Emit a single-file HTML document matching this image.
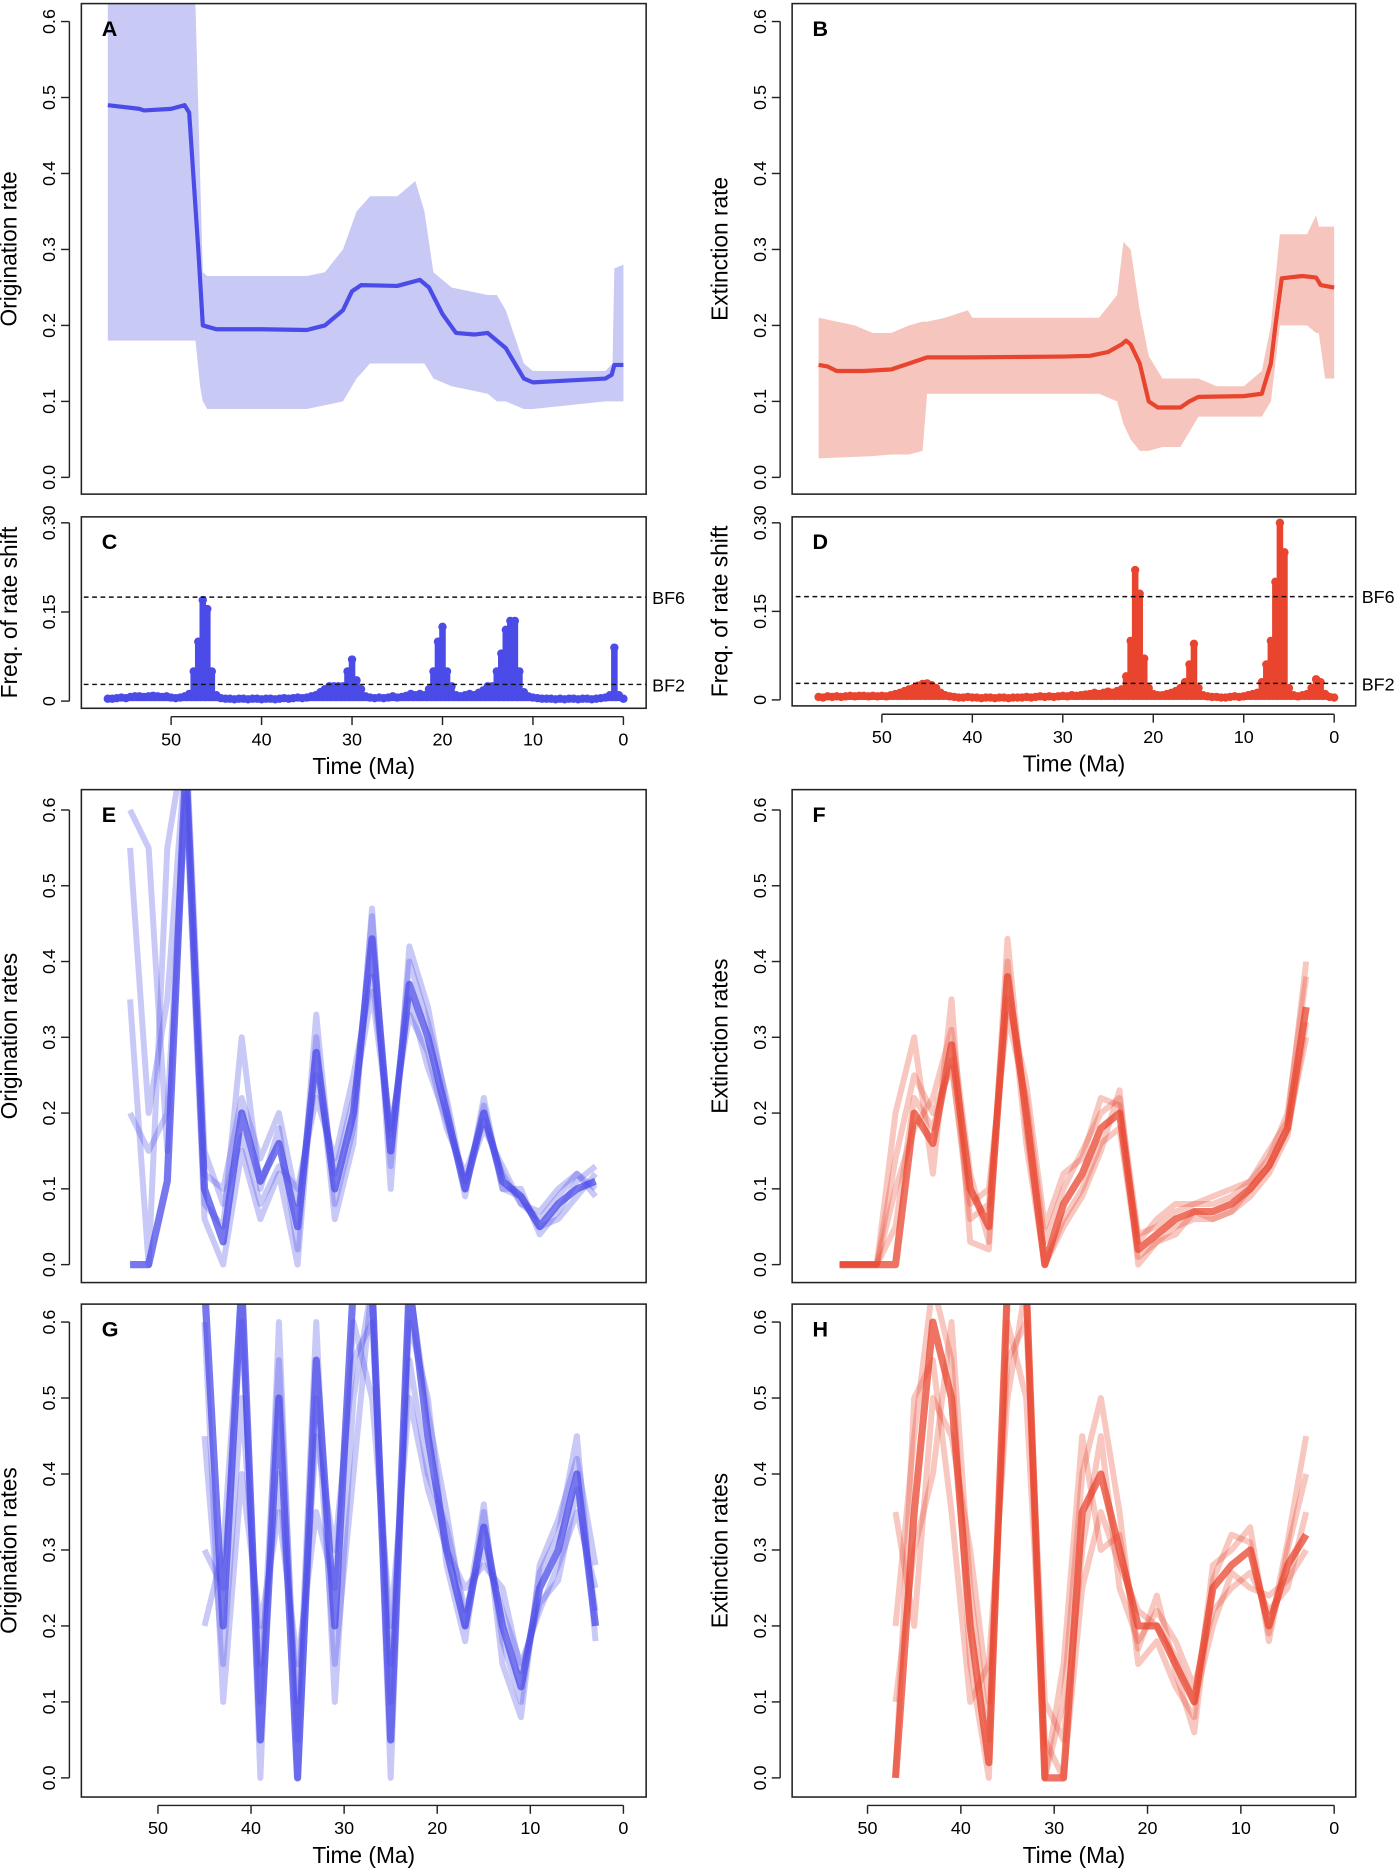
<!DOCTYPE html>
<html><head><meta charset="utf-8">
<style>
html,body{margin:0;padding:0;background:#fff;}
svg{display:block;font-family:"Liberation Sans",Arial,sans-serif;}
</style></head>
<body>
<svg id="fig" width="1400" height="1876" viewBox="0 0 1170 1568" preserveAspectRatio="none" xmlns="http://www.w3.org/2000/svg"></svg>
<script>
// ---------- DATA ----------
const tA = [57,53.5,53,50,48.5,48,47,46.5,45,40,35,33,31,30,29,25,22.5,21.5,20,18.5,16.5,15,13,11,10,7,2,1.3,1,0];
const meanA = [0.49,0.485,0.483,0.485,0.49,0.48,0.3,0.2,0.195,0.195,0.194,0.2,0.22,0.245,0.253,0.252,0.26,0.25,0.215,0.19,0.188,0.19,0.17,0.13,0.125,0.127,0.13,0.135,0.148,0.148];
const tAband = [57,49,47.3,46.8,46.5,46,35,33,31,29.5,28,25,24,23,22,21,19,15,14,13,11,10,2,1.2,1,0];
const upA = [0.7,0.7,0.62,0.4,0.27,0.265,0.265,0.27,0.3,0.35,0.37,0.37,0.38,0.39,0.35,0.27,0.25,0.24,0.24,0.22,0.15,0.14,0.14,0.15,0.275,0.28];
const loA = [0.18,0.18,0.18,0.12,0.1,0.09,0.09,0.095,0.1,0.13,0.15,0.15,0.15,0.15,0.15,0.13,0.12,0.11,0.1,0.1,0.09,0.09,0.1,0.1,0.1,0.1];
const tB = [57,56,55,52,49,47,45,40,30,27,25,23.5,23,22.5,21.5,20.5,19.5,17,16,15,10,8,7,6.5,5.8,3.5,2,1.5,0];
const meanB = [0.148,0.146,0.14,0.14,0.142,0.15,0.158,0.158,0.159,0.16,0.165,0.175,0.18,0.175,0.15,0.1,0.092,0.092,0.1,0.106,0.107,0.11,0.15,0.2,0.262,0.265,0.263,0.253,0.25];
const tBband = [57,53,51,49,47,45.5,45,43,40.5,40,30,26,24,23.3,22.5,21.5,20.5,19,17,15,13,10,8,7,6,3,2,1.7,1,0];
const upB = [0.21,0.2,0.19,0.19,0.2,0.205,0.205,0.21,0.22,0.21,0.21,0.21,0.24,0.31,0.3,0.22,0.16,0.13,0.13,0.13,0.12,0.12,0.14,0.2,0.32,0.32,0.345,0.33,0.33,0.33];
const loB = [0.025,0.027,0.028,0.03,0.03,0.035,0.11,0.11,0.11,0.11,0.11,0.11,0.1,0.07,0.05,0.035,0.035,0.04,0.04,0.08,0.08,0.08,0.08,0.1,0.2,0.2,0.19,0.19,0.13,0.13];
const freqC = [0.004,0.004,0.005,0.006,0.005,0.007,0.008,0.008,0.007,0.008,
0.009,0.008,0.007,0.008,0.006,0.005,0.006,0.008,0.012,0.05,
0.1,0.17,0.155,0.05,0.01,0.005,0.004,0.004,0.003,0.004,
0.004,0.003,0.004,0.004,0.003,0.004,0.004,0.003,0.004,0.005,
0.004,0.005,0.006,0.005,0.006,0.008,0.01,0.015,0.02,0.025,
0.025,0.025,0.025,0.05,0.07,0.035,0.02,0.008,0.006,0.005,
0.006,0.005,0.006,0.008,0.006,0.007,0.009,0.012,0.01,0.012,
0.01,0.02,0.05,0.1,0.125,0.05,0.025,0.01,0.008,0.01,
0.012,0.01,0.014,0.018,0.025,0.025,0.05,0.08,0.12,0.135,
0.135,0.05,0.015,0.008,0.006,0.005,0.004,0.004,0.004,0.003,
0.004,0.003,0.004,0.004,0.003,0.004,0.004,0.003,0.004,0.005,
0.006,0.01,0.09,0.01,0.004];
const freqD = [0.005,0.004,0.006,0.005,0.006,0.005,0.006,0.007,0.006,0.007,
0.007,0.006,0.007,0.006,0.007,0.006,0.008,0.01,0.012,0.015,
0.018,0.02,0.024,0.027,0.028,0.025,0.02,0.012,0.008,0.006,
0.005,0.004,0.004,0.005,0.004,0.004,0.003,0.004,0.004,0.003,
0.004,0.004,0.003,0.004,0.004,0.004,0.005,0.004,0.005,0.006,
0.005,0.006,0.005,0.006,0.007,0.006,0.008,0.007,0.008,0.009,
0.01,0.012,0.01,0.012,0.014,0.012,0.015,0.018,0.04,0.1,
0.22,0.18,0.07,0.02,0.01,0.008,0.008,0.01,0.012,0.015,
0.02,0.03,0.06,0.095,0.02,0.008,0.006,0.005,0.005,0.004,
0.004,0.005,0.006,0.005,0.006,0.008,0.01,0.012,0.03,0.06,
0.1,0.2,0.3,0.25,0.02,0.008,0.006,0.008,0.01,0.02,
0.035,0.03,0.01,0.005,0.004];
const bf6 = 0.175, bf2 = 0.028;
const tE = [53,51,49,47,45,43,41,39,37,35,33,31,29,27,25,23,21,19,17,15,13,11,9,7,5,3];
const E0 = [0,0,0.11,0.66,0.1,0.03,0.2,0.11,0.16,0.05,0.28,0.1,0.2,0.43,0.15,0.37,0.3,0.2,0.1,0.2,0.11,0.09,0.05,0.08,0.1,0.11];
const E1 = [0.35,0,0.55,0.7,0.15,0.08,0.17,0.08,0.13,0.1,0.22,0.14,0.25,0.38,0.18,0.33,0.28,0.18,0.12,0.19,0.12,0.08,0.06,0.09,0.12,0.1];
const E2 = [0.2,0.15,0.2,0.64,0.08,0.05,0.3,0.1,0.18,0.02,0.33,0.08,0.18,0.46,0.13,0.4,0.32,0.22,0.1,0.21,0.1,0.1,0.04,0.07,0.11,0.13];
const E3 = [0.55,0.2,0.35,0.68,0.12,0.1,0.22,0.14,0.2,0.08,0.25,0.12,0.22,0.36,0.17,0.35,0.26,0.19,0.11,0.18,0.13,0.08,0.07,0.1,0.12,0.09];
const E4 = [0.6,0.55,0.15,0.62,0.06,0,0.15,0.06,0.12,0,0.3,0.06,0.16,0.47,0.1,0.42,0.34,0.21,0.09,0.22,0.1,0.09,0.05,0.06,0.09,0.12];
const tF = [53,51,49,47,45,43,41,39,37,35,33,31,29,27,25,23,21,19,17,15,13,11,9,7,5,3];
const F0 = [0,0,0,0,0.2,0.16,0.29,0.1,0.05,0.38,0.2,0,0.08,0.12,0.18,0.2,0.02,0.04,0.06,0.07,0.07,0.08,0.1,0.13,0.18,0.34];
const F1 = [0,0,0,0.14,0.25,0.2,0.26,0.08,0.1,0.33,0.22,0.03,0.1,0.15,0.2,0.22,0.04,0.05,0.07,0.08,0.08,0.09,0.11,0.14,0.2,0.38];
const F2 = [0,0,0,0.1,0.18,0.22,0.31,0.12,0.03,0.43,0.18,0,0.06,0.1,0.16,0.18,0.01,0.03,0.05,0.06,0.06,0.07,0.09,0.12,0.17,0.32];
const F3 = [0,0,0,0.05,0.22,0.18,0.27,0.06,0.08,0.35,0.24,0.05,0.12,0.14,0.22,0.21,0.03,0.06,0.08,0.08,0.09,0.1,0.11,0.15,0.19,0.4];
const F4 = [0,0,0,0.2,0.3,0.12,0.35,0.03,0.02,0.4,0.16,0,0.05,0.09,0.15,0.23,0,0.03,0.04,0.07,0.06,0.07,0.1,0.13,0.18,0.3];
const tG = [45,43,41,39,37,35,33,31,29,27,25,23,21,19,17,15,13,11,9,7,5,3];
const G0 = [0.65,0.2,0.65,0.05,0.5,0,0.55,0.2,0.65,0.65,0.05,0.65,0.45,0.3,0.2,0.33,0.2,0.12,0.25,0.3,0.4,0.2];
const G1 = [0.45,0.15,0.5,0.15,0.4,0.1,0.45,0.3,0.55,0.6,0.15,0.55,0.4,0.33,0.22,0.3,0.22,0.15,0.22,0.28,0.35,0.25];
const G2 = [0.3,0.25,0.6,0.1,0.55,0.05,0.6,0.1,0.5,0.65,0.1,0.6,0.5,0.28,0.18,0.35,0.18,0.1,0.27,0.32,0.45,0.18];
const G3 = [0.6,0.1,0.4,0.2,0.35,0.15,0.35,0.25,0.6,0.5,0.2,0.5,0.38,0.3,0.25,0.28,0.25,0.14,0.23,0.26,0.38,0.22];
const G4 = [0.2,0.3,0.65,0,0.6,0,0.5,0.15,0.4,0.65,0,0.65,0.48,0.35,0.2,0.36,0.15,0.08,0.28,0.34,0.42,0.28];
const tH = [47,45,43,41,39,37,35,33,31,29,27,25,23,21,19,17,15,13,11,9,7,5,3];
const H0 = [0,0.35,0.6,0.5,0.2,0.02,0.65,0.65,0,0,0.35,0.4,0.3,0.2,0.2,0.15,0.1,0.25,0.28,0.3,0.2,0.28,0.32];
const H1 = [0.35,0.2,0.5,0.45,0.3,0.1,0.55,0.6,0.1,0.05,0.3,0.45,0.25,0.18,0.22,0.18,0.12,0.22,0.25,0.27,0.22,0.25,0.35];
const H2 = [0.2,0.45,0.65,0.55,0.15,0,0.65,0.65,0,0.1,0.4,0.5,0.35,0.15,0.18,0.12,0.08,0.28,0.3,0.33,0.18,0.3,0.4];
const H3 = [0.1,0.3,0.4,0.6,0.25,0.05,0.6,0.5,0.05,0,0.25,0.35,0.28,0.22,0.2,0.16,0.1,0.2,0.27,0.25,0.24,0.26,0.3];
const H4 = [0,0.5,0.55,0.35,0.1,0.15,0.5,0.65,0,0.15,0.45,0.3,0.32,0.17,0.24,0.14,0.06,0.26,0.32,0.31,0.19,0.31,0.45];
const rateTicks = [0,0.1,0.2,0.3,0.4,0.5,0.6];
const rateTickLabels = ["0.0","0.1","0.2","0.3","0.4","0.5","0.6"];
const freqTicks = [0,0.15,0.30];
const freqTickLabels = ["0","0.15","0.30"];
const timeTicks = [50,40,30,20,10,0];
const timeTickLabels = ["50","40","30","20","10","0"];

// ---------- DRAWING ----------
const NS = "http://www.w3.org/2000/svg";
const svg = document.getElementById("fig");
const BLUE = "#4b4be8", BLUEBAND = "#c9c9f5", RED = "#e8442e", REDBAND = "#f6c6be";
function mk(tag, parent){ const e = document.createElementNS(NS, tag); (parent||svg).appendChild(e); return e; }
function txt(parent, x, y, s, size, rot, anchor, bold){
  const t = mk("text", parent);
  t.setAttribute("x", x); t.setAttribute("y", y);
  t.setAttribute("font-size", size);
  t.setAttribute("text-anchor", anchor || "middle");
  if (bold) t.setAttribute("font-weight", "bold");
  if (rot) t.setAttribute("transform", "rotate(-90 " + x + " " + y + ")");
  t.textContent = s;
  return t;
}
let clipId = 0;
function panel(o){
  const g = mk("g");
  
  
  const sx = t => o.x0t - o.kx * t;
  const sy = v => o.yb - (v - o.vmin) / (o.vmax - o.vmin) * (o.yb - o.yt);
  const cid = "clip" + (clipId++);
  const cp = mk("clipPath", g); cp.setAttribute("id", cid);
  const cr = mk("rect", cp);
  cr.setAttribute("x", o.bx0); cr.setAttribute("y", o.by0); cr.setAttribute("width", o.bx1 - o.bx0); cr.setAttribute("height", o.by1 - o.by0);
  const plot = mk("g", g);
  plot.setAttribute("clip-path", "url(#" + cid + ")");
  
  
  o.draw(plot, sx, sy);
  const box = mk("rect", g);
  
  
  box.setAttribute("x", o.bx0); box.setAttribute("y", o.by0); box.setAttribute("width", o.bx1 - o.bx0); box.setAttribute("height", o.by1 - o.by0);
  box.setAttribute("fill", "none"); box.setAttribute("stroke", "#222"); box.setAttribute("stroke-width", "1.3");
  const ya = mk("g", g);
  
  
  const yl = mk("line", ya);
  yl.setAttribute("x1", o.bx0 - 10); yl.setAttribute("x2", o.bx0 - 10);
  yl.setAttribute("y1", sy(o.yticks[0])); yl.setAttribute("y2", sy(o.yticks[o.yticks.length-1]));
  yl.setAttribute("stroke", "#222"); yl.setAttribute("stroke-width", "1.2");
  o.yticks.forEach((v, i) => {
    const l = mk("line", ya);
    l.setAttribute("x1", o.bx0 - 10); l.setAttribute("x2", o.bx0 - 17);
    l.setAttribute("y1", sy(v)); l.setAttribute("y2", sy(v));
    l.setAttribute("stroke", "#222"); l.setAttribute("stroke-width", "1.2");
    const t = txt(ya, o.bx0 - 22, sy(v), o.ylabels[i], 15, true, "middle");
    
    
  });
  const yt = txt(g, o.bx0 - 54, (o.by0 + o.by1) / 2, o.ytitle, 19, true, "middle");
  
  
  if (o.xaxis){
    const xa = mk("g", g);
    
    
    const y = o.by1 + 7;
    const xl = mk("line", xa);
    xl.setAttribute("x1", sx(timeTicks[0])); xl.setAttribute("x2", sx(timeTicks[timeTicks.length-1]));
    xl.setAttribute("y1", y); xl.setAttribute("y2", y);
    xl.setAttribute("stroke", "#222"); xl.setAttribute("stroke-width", "1.2");
    timeTicks.forEach((t, i) => {
      const l = mk("line", xa);
      l.setAttribute("x1", sx(t)); l.setAttribute("x2", sx(t));
      l.setAttribute("y1", y); l.setAttribute("y2", y + 7);
      l.setAttribute("stroke", "#222"); l.setAttribute("stroke-width", "1.2");
      const tl = txt(xa, sx(t), y + 24, timeTickLabels[i], 15);
      
      
    });
    const xt = txt(g, (o.bx0 + o.bx1) / 2, y + 48, "Time (Ma)", 19);
    
    
  }
  const pl = txt(g, o.bx0 + 17, o.by0 + 27, o.letter, 18, false, "start", true);
  
  
}
function pathFrom(ts, vs, sx, sy){ return ts.map((t,i) => (i? "L":"M") + sx(t).toFixed(1) + "," + sy(vs[i]).toFixed(1)).join(" "); }
function bandFrom(ts, up, lo, sx, sy){
  let d = ts.map((t,i) => (i? "L":"M") + sx(t).toFixed(1) + "," + sy(up[i]).toFixed(1)).join(" ");
  for (let i = ts.length - 1; i >= 0; i--) d += " L" + sx(ts[i]).toFixed(1) + "," + sy(lo[i]).toFixed(1);
  return d + " Z";
}
function meanPanel(col, band, tb, up, lo, tm, mean){
  return (g, sx, sy) => {
    const b = mk("path", g);
    
    
    b.setAttribute("d", bandFrom(tb, up, lo, sx, sy)); b.setAttribute("fill", band);
    const l = mk("path", g);
    
    
    l.setAttribute("d", pathFrom(tm, mean, sx, sy)); l.setAttribute("fill", "none");
    l.setAttribute("stroke", col); l.setAttribute("stroke-width", "3.5"); l.setAttribute("stroke-linejoin", "round");
  };
}
function freqPanel(col, freq){
  return (g, sx, sy) => {
    freq.forEach((v, i) => {
      const t = 57 - 0.5 * i;
      const l = mk("line", g);
      
      
      l.setAttribute("x1", sx(t)); l.setAttribute("x2", sx(t));
      l.setAttribute("y1", sy(0)); l.setAttribute("y2", sy(v));
      l.setAttribute("stroke", col); l.setAttribute("stroke-width", "5.5");
      const c = mk("circle", g);
      
      
      c.setAttribute("cx", sx(t)); c.setAttribute("cy", sy(v)); c.setAttribute("r", "3.5");
      c.setAttribute("fill", col);
    });
    [bf6, bf2].forEach(v => {
      const d = mk("line", g);
      
      
      d.setAttribute("x1", 0); d.setAttribute("x2", 1170);
      d.setAttribute("y1", sy(v)); d.setAttribute("y2", sy(v));
      d.setAttribute("stroke", "#111"); d.setAttribute("stroke-width", "1.2"); d.setAttribute("stroke-dasharray", "4 3");
    });
  };
}
function spaghetti(col, ts, series){
  return (g, sx, sy) => {
    series.forEach((s, k) => {
      const l = mk("path", g);
      
      
      l.setAttribute("d", pathFrom(ts, s, sx, sy)); l.setAttribute("fill", "none");
      l.setAttribute("stroke", col); l.setAttribute("stroke-width", k === 0 ? "6" : "5");
      l.setAttribute("stroke-opacity", k === 0 ? "0.75" : "0.3"); l.setAttribute("stroke-linejoin", "round");
    });
  };
}
panel({name:"panel-a-origination-rate", letter:"A", bx0:68, bx1:540, by0:3, by1:413, x0t:521, kx:7.56, yb:399, yt:18, vmin:0, vmax:0.6,
  yticks:rateTicks, ylabels:rateTickLabels, ytitle:"Origination rate", xaxis:false,
  draw: meanPanel(BLUE, BLUEBAND, tAband, upA, loA, tA, meanA)});
panel({name:"panel-b-extinction-rate", letter:"B", bx0:662, bx1:1133, by0:3, by1:413, x0t:1115, kx:7.56, yb:399, yt:18, vmin:0, vmax:0.6,
  yticks:rateTicks, ylabels:rateTickLabels, ytitle:"Extinction rate", xaxis:false,
  draw: meanPanel(RED, REDBAND, tBband, upB, loB, tB, meanB)});
panel({name:"panel-c-origination-shift-frequency", letter:"C", bx0:68, bx1:540, by0:432, by1:592, x0t:521, kx:7.56, yb:586, yt:437, vmin:0, vmax:0.30,
  yticks:freqTicks, ylabels:freqTickLabels, ytitle:"Freq. of rate shift", xaxis:true,
  draw: freqPanel(BLUE, freqC)});
panel({name:"panel-d-extinction-shift-frequency", letter:"D", bx0:662, bx1:1133, by0:432, by1:590, x0t:1115, kx:7.56, yb:585, yt:437, vmin:0, vmax:0.30,
  yticks:freqTicks, ylabels:freqTickLabels, ytitle:"Freq. of rate shift", xaxis:true,
  draw: freqPanel(RED, freqD)});
panel({name:"panel-e-origination-trajectories", letter:"E", bx0:68, bx1:540, by0:660, by1:1072, x0t:521, kx:7.78, yb:1057, yt:677, vmin:0, vmax:0.6,
  yticks:rateTicks, ylabels:rateTickLabels, ytitle:"Origination rates", xaxis:false,
  draw: spaghetti(BLUE, tE, [E0,E1,E2,E3,E4])});
panel({name:"panel-f-extinction-trajectories", letter:"F", bx0:662, bx1:1133, by0:660, by1:1072, x0t:1115, kx:7.8, yb:1057, yt:677, vmin:0, vmax:0.6,
  yticks:rateTicks, ylabels:rateTickLabels, ytitle:"Extinction rates", xaxis:false,
  draw: spaghetti(RED, tF, [F0,F1,F2,F3,F4])});
panel({name:"panel-g-origination-trajectories", letter:"G", bx0:68, bx1:540, by0:1090, by1:1502, x0t:521, kx:7.78, yb:1486, yt:1105, vmin:0, vmax:0.6,
  yticks:rateTicks, ylabels:rateTickLabels, ytitle:"Origination rates", xaxis:true,
  draw: spaghetti(BLUE, tG, [G0,G1,G2,G3,G4])});
panel({name:"panel-h-extinction-trajectories", letter:"H", bx0:662, bx1:1133, by0:1090, by1:1502, x0t:1115, kx:7.8, yb:1486, yt:1105, vmin:0, vmax:0.6,
  yticks:rateTicks, ylabels:rateTickLabels, ytitle:"Extinction rates", xaxis:true,
  draw: spaghetti(RED, tH, [H0,H1,H2,H3,H4])});
[["BF6", 545, 505], ["BF2", 545, 578], ["BF6", 1138, 504], ["BF2", 1138, 577]].forEach(a => {
  const t = txt(svg, a[1], a[2], a[0], 15, false, "start");
  
  
});
</script>
</body></html>
